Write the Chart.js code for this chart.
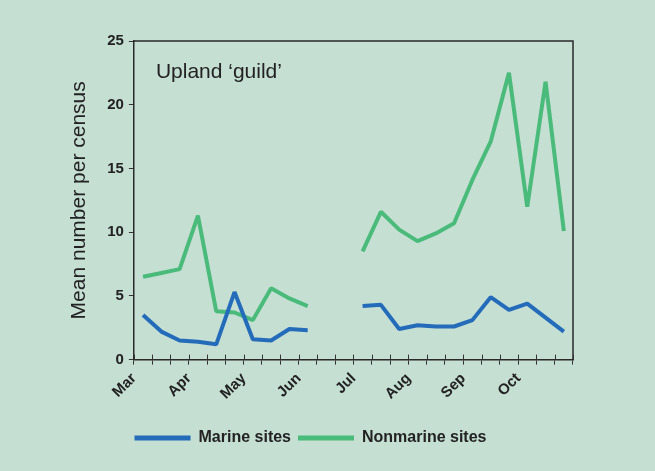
<!DOCTYPE html>
<html>
<head>
<meta charset="utf-8">
<script src="https://cdn.jsdelivr.net/npm/chart.js@4/dist/chart.umd.min.js"></script>
<style>
  html, body { margin: 0; padding: 0; background: #c5dfd3; }
  #wrap { width: 655px; height: 471px; }
</style>
</head>
<body>
<div id="wrap"><canvas id="chart"></canvas></div>
<script>
// three censuses per month, Mar..Oct
const months = ['Mar', 'Apr', 'May', 'Jun', 'Jul', 'Aug', 'Sep', 'Oct'];
const periods = [];
months.forEach(m => { periods.push(m, m + ' 2', m + ' 3'); });

const marine = [3.5, 2.2, 1.5, 1.4, 1.2, 5.3, 1.6, 1.5, 2.4, 2.3, null, null,
                4.2, 4.3, 2.4, 2.7, 2.6, 2.6, 3.1, 4.9, 3.9, 4.4, 3.3, 2.2];
const nonmarine = [6.5, 6.8, 7.1, 11.3, 3.8, 3.7, 3.1, 5.6, 4.8, 4.2, null, null,
                   8.5, 11.6, 10.2, 9.3, 9.9, 10.7, 14.1, 17.1, 22.5, 12.0, 21.8, 10.1];

const BLUE = 'rgb(36,108,186)';
const GREEN = 'rgb(74,187,122)';
const INK = '#222';
const FONT = '"Liberation Sans", Arial, sans-serif';

// frame around plot area + guild label + inner half of x ticks
const framePlugin = {
  id: 'frame',
  afterDraw(chart) {
    const ctx = chart.ctx, a = chart.chartArea;
    ctx.save();
    ctx.strokeStyle = '#2a2a2a';
    ctx.lineWidth = 1.5;
    ctx.beginPath();
    ctx.moveTo(a.left, a.top);
    ctx.lineTo(a.right, a.top);
    ctx.lineTo(a.right, a.bottom);
    ctx.stroke();
    const xs = chart.scales.x;
    const half = (xs.getPixelForValue(1) - xs.getPixelForValue(0)) / 2;
    ctx.lineWidth = 1;
    ctx.strokeStyle = '#333';
    ctx.beginPath();
    for (let i = 0; i <= periods.length; i++) {
      const px = Math.round(xs.getPixelForValue(i) - half) + 0.5;
      ctx.moveTo(px, a.bottom);
      ctx.lineTo(px, a.bottom - 5);
    }
    ctx.stroke();
    ctx.fillStyle = INK;
    ctx.font = '21px ' + FONT;
    ctx.textBaseline = 'middle';
    ctx.fillText('Upland \u2018guild\u2019', a.left + 22, a.top + 31);
    ctx.restore();
  }
};

new Chart(document.getElementById('chart'), {
  type: 'line',
  data: {
    labels: periods,
    datasets: [
      { label: 'Marine sites', data: marine, borderColor: BLUE, backgroundColor: BLUE },
      { label: 'Nonmarine sites', data: nonmarine, borderColor: GREEN, backgroundColor: GREEN }
    ]
  },
  options: {
    responsive: true,
    maintainAspectRatio: false,
    animation: false,
    spanGaps: false,
    elements: {
      line: { borderWidth: 4, tension: 0, borderJoinStyle: 'bevel' },
      point: { radius: 0, hoverRadius: 0 }
    },
    layout: { padding: { left: 48, right: 82, top: 41, bottom: 15 } },
    plugins: {
      tooltip: { enabled: false },
      legend: {
        position: 'bottom',
        labels: {
          boxWidth: 56,
          boxHeight: 5,
          padding: 7,
          color: INK,
          font: { family: FONT, size: 16, weight: 'bold' },
          generateLabels(chart) {
            return Chart.defaults.plugins.legend.labels.generateLabels(chart)
              .map(l => Object.assign(l, { lineWidth: 0 }));
          }
        }
      }
    },
    scales: {
      x: {
        offset: true,
        grid: { offset: true, drawOnChartArea: false, color: '#333', tickLength: 5 },
        border: { color: '#2a2a2a', width: 1.5 },
        // leave room between month labels and legend
        afterFit(scale) { scale.height += 15; },
        ticks: {
          autoSkip: false,
          maxRotation: 45,
          minRotation: 45,
          labelOffset: -9,
          padding: 5,
          color: INK,
          font: { family: FONT, size: 15, weight: 'bold' },
          callback: (v, i) => (i % 3 === 0 ? months[i / 3] : '')
        }
      },
      y: {
        min: 0,
        max: 25,
        grid: { drawOnChartArea: false, color: '#333', tickLength: 5 },
        border: { color: '#2a2a2a', width: 1.5 },
        ticks: {
          stepSize: 5,
          padding: 5,
          color: INK,
          font: { family: FONT, size: 15, weight: 'bold' }
        },
        title: {
          display: true,
          text: 'Mean number per census',
          color: INK,
          padding: { top: 19, bottom: 10 },
          font: { family: FONT, size: 21 }
        }
      }
    }
  },
  plugins: [framePlugin]
});
</script>
</body>
</html>
